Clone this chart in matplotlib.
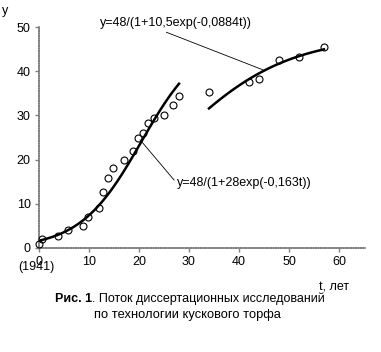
import numpy as np
import matplotlib.pyplot as plt

plt.rcParams['font.family'] = ['Liberation Sans', 'DejaVu Sans']

# observed points (t, years since 1941; y, number of dissertations)
t_obs = [0, 0.6, 3.8, 5.8, 8.8, 9.8, 12, 12.8, 13.8, 14.8, 17, 18.8, 19.8,
         20.8, 21.8, 23, 25, 26.8, 28, 34, 42, 44, 48, 52, 57]
y_obs = [0.9, 2, 2.7, 4.1, 5, 7, 9.1, 12.7, 15.9, 18, 20, 22, 24.8,
         26.1, 28.2, 29.3, 30.2, 32.3, 34.3, 35.2, 37.5, 38.2, 42.5, 43.2, 45.4]

# fitted logistic curves as written on the chart
fit1 = dict(K=48, a=28, r=0.163, t0=0, t1=28)
fit2 = dict(K=48, a=10.5, r=0.0884, t0=34, t1=57)

xticks = [0, 10, 20, 30, 40, 50, 60]
yticks = [0, 10, 20, 30, 40, 50]


def logistic(p):
    t = np.linspace(p['t0'], p['t1'], 100)
    return t, p['K'] / (1 + p['a'] * np.exp(-p['r'] * t))


fig = plt.figure(figsize=(3.81, 3.52), dpi=100)
ax = fig.add_axes([39 / 381, 1 - 248 / 352, 326 / 381, 221 / 352])

for p in (fit1, fit2):
    t, y = logistic(p)
    ax.plot(t, y, color='black', lw=1.8, zorder=2)

ax.plot(t_obs, y_obs, 'o', mfc='none', mec='black', ms=5, mew=0.8, zorder=3,
        clip_on=False)

ax.set_xlim(0, 65.2)
ax.set_ylim(0, 50)
ax.set_xticks(xticks)
ax.set_yticks(yticks)
ax.tick_params(labelsize=9, length=3, color='gray', width=1, pad=3)
for s in ('top', 'right'):
    ax.spines[s].set_visible(False)
for s in ('left', 'bottom'):
    ax.spines[s].set_color('gray')
    ax.spines[s].set_linewidth(1.2)
    ax.spines[s].set_linestyle((0, (1, 0.5)))

# annotations of the fitted formulas
ax.annotate('y=48/(1+10,5exp(-0,0884t))', xy=(44.8, 40.3), xytext=(12.2, 50.8),
            fontsize=9, ha='left', va='center',
            arrowprops=dict(arrowstyle='-', color='black', lw=0.6,
                            shrinkA=0, shrinkB=0, relpos=(0.39, 0)))
ax.annotate('y=48/(1+28exp(-0,163t))', xy=(20.2, 24.5), xytext=(27.6, 14.6),
            fontsize=9, ha='left', va='center',
            arrowprops=dict(arrowstyle='-', color='black', lw=0.6,
                            shrinkA=0, shrinkB=0, relpos=(0, 0.5)))

fig.text(2 / 381, 1 - 11 / 352, 'y', fontsize=9, va='center')
fig.text(18 / 381, 1 - 267 / 352, '(1941)', fontsize=9, va='center')
fig.text(334 / 381, 1 - 288 / 352, 't, лет', fontsize=9, va='center', ha='center')

# caption: bold "Рис. 1" followed by normal text
bold = fig.text(55 / 381, 1 - 302 / 352, 'Рис. 1', fontsize=9, weight='bold',
                va='baseline')
fig.add_artist(plt.Annotation('. Поток диссертационных исследований',
                              xy=(1, 0), xycoords=bold, va='bottom',
                              fontsize=9, annotation_clip=False))
fig.text(187 / 381, 1 - 318 / 352, 'по технологии кускового торфа',
         fontsize=9.3, va='baseline', ha='center')

fig.savefig('out.png', dpi=100)
